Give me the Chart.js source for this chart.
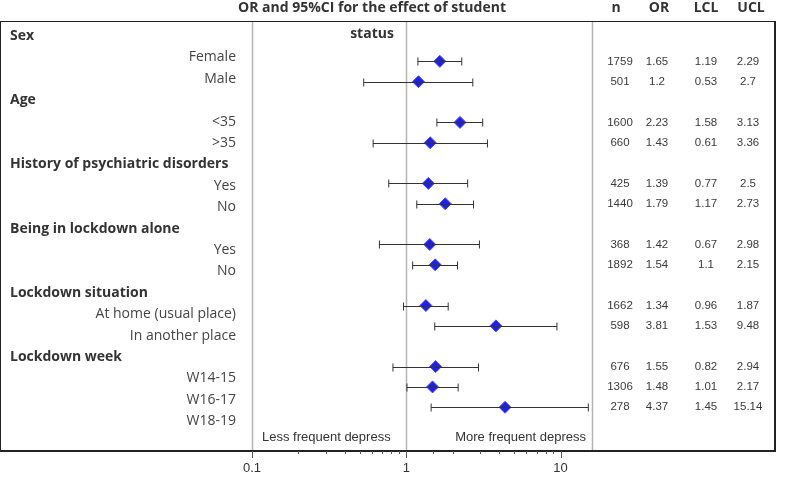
<!DOCTYPE html>
<html>
<head>
<meta charset="utf-8">
<script src="https://cdn.jsdelivr.net/npm/chart.js@4/dist/chart.umd.min.js"></script>
<style>
  body { margin: 0; background: #fff; }
  canvas { display: block; }
</style>
</head>
<body>
<canvas id="forest" width="787" height="485"></canvas>
<script>
// groups and their levels, top to bottom
const groups = ['Sex', 'Age', 'History of psychiatric disorders', 'Being in lockdown alone', 'Lockdown situation', 'Lockdown week'];
const levels = [
  ['Female', 'Male'],
  ['<35', '>35'],
  ['Yes', 'No'],
  ['Yes', 'No'],
  ['At home (usual place)', 'In another place'],
  ['W14-15', 'W16-17', 'W18-19']
];
// one value per level, same order
const nVals   = [1759, 501, 1600, 660, 425, 1440, 368, 1892, 1662, 598, 676, 1306, 278];
const orVals  = [1.65, 1.2, 2.23, 1.43, 1.39, 1.79, 1.42, 1.54, 1.34, 3.81, 1.55, 1.48, 4.37];
const lclVals = [1.19, 0.53, 1.58, 0.61, 0.77, 1.17, 0.67, 1.1, 0.96, 1.53, 0.82, 1.01, 1.45];
const uclVals = [2.29, 2.7, 3.13, 3.36, 2.5, 2.73, 2.98, 2.15, 1.87, 9.48, 2.94, 2.17, 15.14];
const xTickLabels = [0.1, 1, 10];
const tableHeads = ['n', 'OR', 'LCL', 'UCL'];

// rows: header row then each level
const rows = [];
groups.forEach((g, gi) => {
  rows.push({ text: g, head: true });
  levels[gi].forEach(l => rows.push({ text: l, head: false }));
});
const levelRows = [];
rows.forEach((r, i) => { if (!r.head) levelRows.push(i); });

const points = orVals.map((v, i) => ({ x: v, y: levelRows[i] }));

const SANS = '"Open Sans", "Noto Sans", sans-serif';
const ARIAL = '"Liberation Sans", Arial, sans-serif';

const isMajor = (v) => xTickLabels.some(t => Math.abs(Math.log10(t) - Math.log10(v)) < 1e-6);

const forestPlugin = {
  id: 'forest',
  beforeDatasetsDraw(chart) {
    const { ctx, chartArea: a, scales: { x } } = chart;
    ctx.save();
    ctx.strokeStyle = '#b4b4b4';
    ctx.lineWidth = 1.5;
    [a.left, x.getPixelForValue(1), a.right].forEach(px => {
      ctx.beginPath();
      ctx.moveTo(Math.round(px) + 0.5, a.top);
      ctx.lineTo(Math.round(px) + 0.5, a.bottom);
      ctx.stroke();
    });
    ctx.restore();
  },
  afterDatasetsDraw(chart) {
    const { ctx, scales: { x, y } } = chart;
    ctx.save();
    ctx.strokeStyle = '#333';
    ctx.lineWidth = 1;
    levelRows.forEach((r, i) => {
      const py = Math.round(y.getPixelForValue(r)) + 0.5;
      const x1 = x.getPixelForValue(lclVals[i]);
      const x2 = x.getPixelForValue(uclVals[i]);
      ctx.beginPath();
      ctx.moveTo(x1, py); ctx.lineTo(x2, py);
      ctx.moveTo(x1, py - 4); ctx.lineTo(x1, py + 4);
      ctx.moveTo(x2, py - 4); ctx.lineTo(x2, py + 4);
      ctx.stroke();
    });
    ctx.restore();
  },
  afterDraw(chart) {
    const { ctx, chartArea: a, scales: { x, y, y2 } } = chart;
    ctx.save();

    // frame
    ctx.strokeStyle = '#222';
    ctx.lineWidth = 1;
    ctx.strokeRect(0.5, a.top + 0.5, 774, a.bottom - a.top);
    ctx.lineWidth = 2;
    ctx.beginPath();
    ctx.moveTo(775, a.top); ctx.lineTo(775, a.bottom + 1);
    ctx.lineTo(0, a.bottom + 1);
    ctx.stroke();

    // axis ticks
    ctx.strokeStyle = '#555';
    ctx.lineWidth = 1;
    x.ticks.forEach(t => {
      if (t.value > 10.5) return;
      const px = Math.round(x.getPixelForValue(t.value)) + 0.5;
      ctx.beginPath();
      ctx.moveTo(px, a.bottom + 1);
      ctx.lineTo(px, a.bottom + (isMajor(t.value) ? 8 : 4));
      ctx.stroke();
    });

    // title
    ctx.fillStyle = '#333';
    ctx.font = 'bold 14px ' + SANS;
    ctx.textAlign = 'center';
    ctx.textBaseline = 'middle';
    ctx.fillText('OR and 95%CI for the effect of student', 372, 8);
    ctx.fillText('status', 372, 34);

    // table header
    const cols = [620, 657, 706, 748];
    const headX = [616, 659, 706, 751];
    tableHeads.forEach((h, i) => ctx.fillText(h, headX[i], 8));

    // left labels
    rows.forEach((r, i) => {
      const py = y2.getPixelForValue(i);
      if (r.head) {
        ctx.font = 'bold 14px ' + SANS;
        ctx.fillStyle = '#333';
        ctx.textAlign = 'left';
        ctx.fillText(r.text, 10, py);
      } else {
        ctx.font = '14px ' + SANS;
        ctx.fillStyle = '#444';
        ctx.textAlign = 'right';
        ctx.fillText(r.text, 236, py);
      }
    });

    // table values
    ctx.font = '11.5px ' + ARIAL;
    ctx.fillStyle = '#3a3a3a';
    ctx.textAlign = 'center';
    levelRows.forEach((r, i) => {
      const py = y.getPixelForValue(r);
      [nVals[i], orVals[i], lclVals[i], uclVals[i]].forEach((v, c) => {
        ctx.fillText(String(v), cols[c], py);
      });
    });

    // direction notes
    ctx.font = '13px ' + ARIAL;
    ctx.fillStyle = '#333';
    ctx.textAlign = 'left';
    ctx.fillText('Less frequent depress', a.left + 10, a.bottom - 13);
    ctx.textAlign = 'right';
    ctx.fillText('More frequent depress', a.right - 6, a.bottom - 13);

    ctx.restore();
  }
};

new Chart(document.getElementById('forest'), {
  type: 'scatter',
  data: {
    datasets: [{
      data: points,
      pointStyle: 'rectRot',
      pointRadius: 6,
      pointHoverRadius: 6,
      backgroundColor: 'rgba(20, 20, 225, 0.95)',
      borderColor: '#4b4bff',
      borderWidth: 1
    }]
  },
  options: {
    responsive: false,
    animation: false,
    layout: { padding: { left: 252, right: 195, top: 21, bottom: 0 } },
    plugins: { legend: { display: false }, tooltip: { enabled: false } },
    scales: {
      x: {
        type: 'logarithmic',
        min: 0.1,
        max: 16,
        border: { display: false },
        grid: { drawOnChartArea: false, drawTicks: false },
        ticks: {
          autoSkip: false,
          maxRotation: 0,
          padding: 11,
          color: '#333',
          font: { family: ARIAL, size: 13 },
          callback: (v) => isMajor(v) ? String(v) : ''
        },
        afterFit: (s) => { s.height = 35; }
      },
      y: { type: 'linear', min: -0.983, max: 20.1, reverse: true, display: false },
      y2: { type: 'linear', min: -0.70, max: 19.35, reverse: true, display: false }
    }
  },
  plugins: [forestPlugin]
});
</script>
</body>
</html>
